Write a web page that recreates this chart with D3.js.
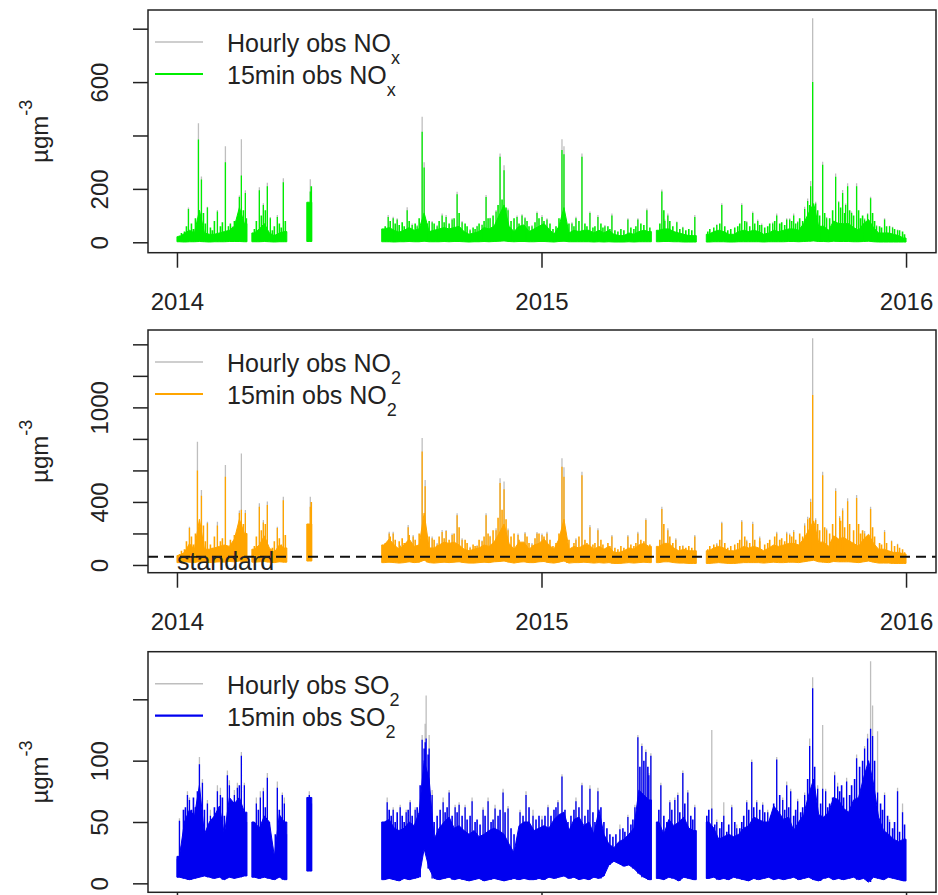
<!DOCTYPE html>
<html>
<head>
<meta charset="utf-8">
<script src="https://cdn.jsdelivr.net/npm/d3@7"></script>
<style>
  body { margin: 0; background: #fff; }
  text { font-family: "Liberation Sans", Arial, sans-serif; fill: #222; }
</style>
</head>
<body>
<svg id="chart" width="938" height="895"></svg>
<script>
// Observations are summarised in 5-day bins starting 2014-01-01:
// lo = bottom of the trace, mid = top of the dense band, null = no data.
// Spikes list individual peaks: [day offset, 15-min value, hourly value];
// minor peaks list smaller 15-min excursions: [day offset, value].
const startDate = "2014-01-01";
const binDays = 5;

const xTickDates = ["2014-01-01", "2015-01-01", "2016-01-01"];
const xTickLabels = ["2014", "2015", "2016"];

// ---- NOx ----
const noxTicks = [0, 200, 400, 600, 800];
const noxTickLabels = [0, 200, 600];
const noxDomain = [-39, 870];
const noxLo = [
  2,1,2,2,3,2,1,2,2,2,3,3,3,2, null,
  2,2,3,2,1,2,2, null,null,null,null,
  3, null,null,null,null,null,null,null,null,null,null,null,null,null,null,
  2,2,1,2,2,3,2,2,4,2, 2,2,3,2,3,3,2,1,2,2, 3,2,3,4,5,3,2,3,3,2, 2,3,3,2,1,3,4,2,2,2, 2,2,1,2,1,2,1,1,1,2, 1,2,2,2,
  null,
  2,3,3,2,2,1,1,1, null,null,
  1,2,2,2,1,1,2,2,2,2, 2,1,2,2,2,2,3,3,2,3, 4,5,3,3,2,4,3,3,3,2, 2,3,4,2,1,1,1,1,1,1
];
const noxMid = [
  21,33,45,35,120,35,30,30,35,40,45,60,130,70, null,
  35,50,70,35,25,35,40, null,null,null,null,
  150, null,null,null,null,null,null,null,null,null,null,null,null,null,null,
  50,55,45,38,45,55,45,50,110,40, 45,50,55,50,55,60,40,30,35,40, 55,50,60,100,140,60,40,60,65,40, 50,60,70,50,30,60,130,35,45,40, 45,45,35,45,35,45,30,25,25,35, 30,40,45,40,
  null,
  45,50,50,40,35,30,25,25, null,null,
  30,40,45,40,30,30,40,45,40,45, 40,30,35,45,40,45,50,50,45,70, 110,145,60,60,45,80,70,70,70,55, 45,70,85,55,35,35,35,30,25,16
];
const noxSpikes = [
  [11,125,130],[21,385,446],[24,235,246],[30,130,133],[40,115,121],[48,300,360],[51,60,60],[55,55,60],
  [60,70,75],[62,170,175],[64,250,386],[68,185,195],[82,195,206],[86,140,146],[90,210,223],[93,90,95],
  [100,95,102],[106,225,240],[133,190,236],[211,95,102],[216,90,96],[220,85,90],[230,120,131],[235,65,70],
  [240,60,65],[245,414,470],[247,280,300],[255,75,80],[260,60,65],[265,100,108],[269,95,102],[275,85,90],
  [280,180,189],[285,75,80],[293,45,50],[300,60,62],[305,65,68],[309,170,177],[313,90,92],[319,115,121],
  [323,320,333],[327,270,289],[331,120,127],[340,95,100],[345,100,105],[348,90,95],[355,60,65],[360,110,115],
  [365,95,102],[370,85,90],[385,346,386],[387,330,360],[395,70,75],[399,90,96],[405,320,333],[413,110,115],
  [421,95,102],[428,60,65],[435,100,108],[451,85,90],[461,85,90],[470,120,127],[485,190,198],[488,80,85],
  [491,100,108],[500,75,78],[506,55,58],[518,95,102],[540,65,68],[545,140,146],[565,140,146],[570,75,80],
  [576,110,115],[581,80,85],[585,65,70],[596,70,75],[600,100,108],[610,85,90],[613,85,90],[617,100,108],
  [621,75,80],[628,125,133],[631,155,164],[634,210,230],[636,600,839],[639,145,152],[646,290,302],[650,90,95],
  [659,245,258],[662,150,155],[666,185,196],[669,140,145],[671,210,221],[675,110,115],[680,210,221],[688,85,90],
  [691,105,110],[694,165,171],[700,60,65],[708,85,90],[713,60,62],[716,55,58],[721,45,48]
];
const noxMinor = [
  [2,25],[4,35],[7,40],[9,60],[14,70],[16,50],[18,90],[26,110],[28,70],[33,55],[35,45],[37,80],[43,60],
  [45,75],[53,70],[57,80],[66,120],[69,90],[77,50],[79,80],[84,100],[88,120],[95,45],[97,60],[102,70],
  [104,55],[108,80],[131,120],[134,210],[208,60],[213,80],[218,70],[222,65],[225,75],[227,60],[232,80],
  [238,70],[242,90],[250,70],[252,80],[257,70],[262,80],[267,75],[272,70],[277,90],[282,110],[288,70],
  [290,60],[296,55],[298,50],[302,70],[307,80],[311,90],[316,100],[321,140],[325,160],[329,130],[334,80],
  [337,90],[342,70],[350,80],[352,60],[358,75],[362,90],[367,80],[373,70],[376,50],[379,60],[382,90],
  [390,60],[392,70],[397,60],[402,80],[408,70],[410,60],[416,55],[418,60],[424,70],[426,55],[431,60],
  [433,50],[438,45],[441,40],[444,50],[447,45],[454,55],[457,50],[459,60],[464,70],[467,65],[473,55],
  [483,70],[487,120],[493,80],[496,60],[503,50],[509,45],[512,50],[515,45],[531,40],[533,50],[537,55],
  [543,70],[548,60],[551,45],[554,50],[558,55],[561,60],[563,70],[568,80],[573,60],[578,70],[583,65],
  [588,55],[591,60],[593,70],[598,80],[603,70],[605,75],[608,65],[615,80],[619,70],[623,90],[626,80],
  [633,140],[641,120],[643,100],[648,110],[653,90],[656,120],[664,130],[668,110],[673,120],[677,100],
  [682,120],[684,90],[686,100],[696,110],[698,80],[703,60],[705,55],[710,60],[718,50],[723,45],[726,40],[728,30]
];

// ---- NO2 ----
const no2Ticks = [0, 200, 400, 600, 800, 1000, 1200, 1400];
const no2TickLabels = [0, 400, 1000];
const no2Domain = [-49, 1491];
const no2Standard = 53;
const no2Lo = [
  15,20,18,15,22,18,15,18,20,18,22,20,25,20, null,
  18,20,22,18,15,20,18, null,null,null,null,
  25, null,null,null,null,null,null,null,null,null,null,null,null,null,null,
  15,18,15,12,15,20,15,18,30,15, 12,15,18,15,18,20,15,12,12,15, 18,15,20,22,25,18,12,18,20,15, 15,20,22,15,12,18,25,12,15,15, 18,15,12,15,12,15,10,10,12,15, 12,15,18,15,
  null,
  15,20,20,15,12,12,10,10, null,null,
  10,12,15,12,10,10,12,15,15,15, 15,12,15,18,15,15,18,18,15,20, 25,30,20,18,15,22,20,20,20,18, 15,20,25,18,12,12,12,10,10,10
];
const no2Mid = [
  60,80,135,100,290,100,100,108,118,127,118,165,290,200, null,
  100,127,185,108,80,127,108, null,null,null,null,
  260, null,null,null,null,null,null,null,null,null,null,null,null,null,null,
  127,165,127,100,127,165,118,127,330,108, 108,127,145,137,145,127,100,90,100,108, 127,118,145,200,260,137,100,145,145,100, 127,137,165,127,100,165,290,100,118,108, 127,127,100,118,100,118,80,80,90,108, 100,127,137,118,
  null,
  118,137,137,108,90,100,90,90, null,null,
  90,108,118,108,90,90,100,118,108,118, 108,90,108,127,118,127,137,137,127,165, 220,280,145,145,118,185,165,175,155,137, 118,165,195,137,100,100,90,80,80,70
];
const no2Spikes = [
  [12,235,243],[20,600,782],[24,440,476],[30,265,275],[40,250,275],[48,560,635],[60,150,160],[62,330,345],
  [64,350,708],[68,330,349],[82,370,391],[86,270,285],[90,380,402],[100,235,243],[106,410,433],[133,370,433],
  [212,200,211],[216,200,211],[223,120,125],[231,240,254],[236,180,190],[245,720,805],[248,500,540],[255,170,180],
  [260,130,140],[265,210,222],[269,215,222],[275,190,200],[280,315,328],[285,160,170],[293,110,115],[300,120,125],
  [305,150,155],[309,315,328],[313,180,185],[319,220,233],[323,520,550],[327,480,529],[331,220,232],[341,190,200],
  [348,200,210],[355,130,140],[360,200,210],[365,190,200],[370,200,211],[385,624,677],[387,560,620],[399,160,170],
  [405,570,592],[413,240,254],[421,220,233],[435,180,190],[451,180,190],[461,200,211],[469,285,296],[485,355,370],
  [491,220,233],[499,160,170],[506,120,125],[518,180,190],[540,130,140],[545,265,275],[565,275,285],[570,150,160],
  [576,260,275],[583,170,180],[600,200,211],[610,200,211],[613,190,200],[617,210,222],[628,250,264],[631,290,306],
  [634,400,420],[636,1078,1439],[639,285,296],[646,570,592],[650,220,232],[659,470,487],[663,300,310],[666,345,360],
  [671,405,423],[680,425,444],[688,200,215],[694,355,370],[708,210,222],[715,150,155],[721,130,135]
];
const no2Minor = [
  [2,70],[4,90],[7,100],[9,150],[14,180],[16,130],[18,200],[26,250],[28,150],[33,130],[35,110],[37,180],
  [43,150],[45,170],[53,160],[57,190],[66,260],[69,200],[77,120],[79,180],[84,220],[88,260],[95,110],[97,150],
  [102,170],[104,130],[108,190],[131,260],[134,400],[208,140],[213,180],[218,160],[222,150],[225,170],[227,140],
  [232,190],[238,160],[242,200],[250,160],[252,180],[257,160],[262,180],[267,170],[272,160],[277,200],[282,240],
  [288,160],[290,140],[296,130],[298,120],[302,160],[307,180],[311,200],[316,220],[321,300],[325,350],[329,290],
  [334,180],[337,200],[342,160],[350,180],[352,140],[358,170],[362,200],[367,180],[373,160],[376,120],[379,140],
  [382,200],[390,140],[392,160],[397,140],[402,180],[408,160],[410,140],[416,130],[418,140],[424,160],[426,130],
  [431,140],[433,120],[438,110],[441,100],[444,120],[447,110],[454,130],[457,120],[459,140],[464,160],[467,150],
  [473,130],[483,160],[487,260],[493,180],[496,140],[503,120],[509,110],[512,120],[515,110],[531,100],[533,120],
  [537,130],[543,160],[548,140],[551,110],[554,120],[558,130],[561,140],[563,160],[568,180],[573,140],[578,160],
  [583,150],[588,130],[591,140],[593,160],[598,180],[603,160],[605,170],[608,150],[615,180],[619,160],[623,200],
  [626,180],[633,300],[641,260],[643,220],[648,240],[653,200],[656,260],[664,280],[668,240],[673,260],[677,220],
  [682,260],[684,200],[686,220],[696,240],[698,180],[703,140],[705,130],[710,140],[718,120],[723,110],[726,100],[728,80]
];

// ---- SO2 ----
const so2Ticks = [0, 50, 100, 150];
const so2TickLabels = [0, 50, 100];
const so2Domain = [-7.3, 188.8];
const so2Lo = [
  5,4,3,4,5,6,5,4,5,3,5,4,5,6, null,
  5,4,5,4,3,5,3, null,null,null,null,
  10, null,null,null,null,null,null,null,null,null,null,null,null,null,null,
  3,4,3,2,4,3,4,5,28,12, 4,3,4,5,3,4,3,2,3,4, 2,3,4,3,2,3,4,3,4,3, 3,4,3,5,4,5,6,4,5,3, 4,3,5,4,6,15,18,16,14,15, 12,8,5,3,
  null,
  4,3,5,4,2,5,4,3, null,null,
  4,5,3,4,3,5,4,3,2,4, 3,4,5,3,4,3,4,5,3,4, 5,3,2,4,5,3,4,3,4,5, 3,4,1,5,4,3,5,4,3,2
];
const so2Mid = [
  22,50,60,55,80,40,50,55,63,40,70,65,70,58, null,
  50,45,55,50,22,56,50, null,null,null,null,
  70, null,null,null,null,null,null,null,null,null,null,null,null,null,null,
  50,52,45,43,45,50,47,58,100,85, 36,45,50,54,45,47,43,40,43,38, 40,43,45,43,40,32,25,47,50,50, 43,45,47,45,52,56,58,43,52,54, 47,50,40,60,40,32,29,34,36,40, 45,76,72,68,
  null,
  50,40,52,47,50,54,45,43, null,null,
  50,45,36,38,40,38,40,45,47,54, 52,50,50,63,58,52,54,43,50,56, 72,85,56,54,58,70,68,61,58,68, 70,86,100,81,54,43,40,36,34,36
];
const so2Spikes = [
  [2,51,53],[10,72,75],[12,68,70],[22,97,103],[25,82,85],[30,65,68],[33,55,60],[40,75,80],[43,72,78],
  [50,88,92],[52,80,84],[57,72,76],[60,78,82],[64,104,107],[67,80,82],[79,65,70],[83,70,75],[86,75,78],
  [90,86,90],[100,78,83],[105,72,74],[107,65,70],[132,72,75],[210,66,70],[216,60,62],[223,62,64],[229,58,60],
  [233,66,68],[238,60,62],[245,117,121],[248,115,130],[249,118,153],[252,110,121],[255,72,76],[266,66,70],
  [272,74,76],[278,62,64],[282,64,66],[288,62,64],[295,67,70],[306,60,62],[311,67,70],[318,61,64],[326,74,77],
  [331,61,63],[343,58,60],[349,72,75],[356,55,60],[365,52,55],[371,62,64],[381,66,68],[385,87,89],[399,67,70],
  [405,80,82],[413,77,80],[421,75,78],[443,44,48],[451,54,56],[458,62,64],[461,119,121],[465,112,114],
  [469,107,109],[472,88,90],[474,104,106],[484,80,82],[493,66,68],[498,68,70],[501,72,74],[506,90,92],
  [511,74,76],[518,62,64],[535,61,125],[540,50,52],[547,55,66],[555,62,64],[560,45,48],[570,66,68],
  [575,99,101],[580,66,68],[586,64,66],[591,58,60],[600,101,103],[606,68,70],[610,80,83],[614,75,77],
  [621,67,69],[628,72,74],[633,112,118],[636,159,168],[641,77,80],[646,77,129],[649,75,77],[658,88,91],
  [661,79,82],[670,83,86],[680,102,105],[688,110,112],[691,118,122],[694,126,181],[696,120,145],[701,74,124],
  [708,72,74],[713,50,52],[721,75,78],[726,58,65]
];
const so2Minor = [
  [0,20],[4,30],[6,60],[8,62],[14,60],[16,70],[18,62],[20,75],[27,60],[35,40],[37,62],[45,70],[47,55],
  [54,60],[62,80],[69,50],[77,50],[81,60],[88,62],[92,50],[95,30],[98,40],[102,60],[109,40],[131,70],[134,65],
  [208,50],[212,60],[214,55],[218,50],[220,58],[225,55],[227,50],[231,60],[235,55],[240,62],[243,80],[247,110],
  [251,105],[257,50],[260,55],[263,60],[268,58],[270,62],[275,55],[280,58],[285,55],[290,52],[293,55],[298,50],
  [300,52],[303,48],[308,55],[314,50],[316,52],[321,55],[323,60],[328,58],[334,45],[337,40],[340,35],[346,55],
  [352,62],[359,52],[362,55],[368,55],[374,55],[377,60],[379,62],[388,60],[391,50],[394,55],[397,60],[402,62],
  [408,55],[411,60],[416,58],[418,50],[424,62],[427,50],[430,45],[433,40],[436,38],[439,40],[446,45],[448,42],
  [454,48],[456,52],[463,95],[467,100],[471,95],[482,60],[487,55],[490,50],[495,60],[503,58],[508,65],[514,55],
  [516,52],[530,55],[532,60],[538,48],[543,45],[545,50],[550,42],[552,48],[558,50],[563,45],[565,50],[567,55],
  [572,60],[577,62],[583,60],[588,58],[594,55],[597,65],[603,72],[608,60],[612,62],[617,55],[619,60],[624,58],
  [626,62],[631,85],[638,95],[644,65],[651,62],[653,65],[656,70],[663,75],[665,80],[667,70],[673,72],[675,80],
  [678,85],[683,95],[686,100],[698,100],[704,65],[706,60],[711,55],[716,45],[718,50],[723,42],[728,48]
];

const hourlyColor = "#bebebe";

const panels = [
  { top: 10,    bottom: 252.7, domain: noxDomain, ticks: noxTicks, labels: noxTickLabels,
    lo: noxLo, mid: noxMid, spikes: noxSpikes, minor: noxMinor, color: "#00ee00",
    species: "NO", sub: "x", xLabels: true },
  { top: 330,   bottom: 572.7, domain: no2Domain, ticks: no2Ticks, labels: no2TickLabels,
    lo: no2Lo, mid: no2Mid, spikes: no2Spikes, minor: no2Minor, color: "#ffa500",
    species: "NO", sub: "2", xLabels: true, standard: no2Standard },
  { top: 651.7, bottom: 892.3, domain: so2Domain, ticks: so2Ticks, labels: so2TickLabels,
    lo: so2Lo, mid: so2Mid, spikes: so2Spikes, minor: so2Minor, color: "#0000f0",
    species: "SO", sub: "2", xLabels: false }
];

const svg = d3.select("#chart");
const parse = d3.utcParse("%Y-%m-%d");
const day0 = parse(startDate);
const atDay = d => new Date(day0.getTime() + d * 864e5);

const left = 148, right = 936;
const x = d3.scaleUtc()
  .domain([parse("2013-12-03"), parse("2016-01-31")])
  .range([left, right]);

panels.forEach((p, k) => {
  const y = d3.scaleLinear().domain(p.domain).range([p.bottom, p.top]);
  const g = svg.append("g");

  const clipId = "clip" + k;
  svg.append("clipPath").attr("id", clipId)
    .append("rect").attr("x", left).attr("y", p.top)
    .attr("width", right - left).attr("height", p.bottom - p.top);
  const plot = g.append("g").attr("clip-path", `url(#${clipId})`);

  // band: each bin placed at its centre, segment ends held to the bin edges
  const pts = [];
  const n = p.mid.length;
  p.mid.forEach((m, i) => {
    if (m == null) { pts.push({ t: null, lo: null, mid: null }); return; }
    const first = i === 0 || p.mid[i - 1] == null;
    const last = i === n - 1 || p.mid[i + 1] == null;
    if (first) pts.push({ t: atDay(i * binDays), lo: p.lo[i], mid: m });
    pts.push({ t: atDay((i + 0.5) * binDays), lo: p.lo[i], mid: m });
    if (last) pts.push({ t: atDay((i + 1) * binDays), lo: p.lo[i], mid: m });
  });
  const area = d3.area()
    .defined(d => d.mid != null)
    .x(d => x(d.t)).y0(d => y(d.lo)).y1(d => y(d.mid));

  const baseAt = d => {
    const b = p.lo[Math.floor(d / binDays)];
    return b == null ? 0 : b;
  };
  const linePath = (list, idx) => list.map(s => {
    const sx = x(atDay(s[0] + 0.5));
    return `M${sx},${y(baseAt(s[0]))}V${y(s[idx])}`;
  }).join("");

  // hourly observations underneath
  plot.append("path").attr("d", linePath(p.spikes, 2))
    .attr("fill", "none").attr("stroke", hourlyColor).attr("stroke-width", 1.3);
  plot.append("path").datum(pts).attr("d", area)
    .attr("fill", p.color).attr("stroke", p.color).attr("stroke-width", 1);
  plot.append("path").attr("d", linePath(p.minor, 1))
    .attr("fill", "none").attr("stroke", p.color).attr("stroke-width", 1.6);
  plot.append("path").attr("d", linePath(p.spikes, 1))
    .attr("fill", "none").attr("stroke", p.color).attr("stroke-width", 1.3);

  if (p.standard != null) {
    g.append("line")
      .attr("x1", left).attr("x2", right)
      .attr("y1", y(p.standard)).attr("y2", y(p.standard))
      .attr("stroke", "#111").attr("stroke-width", 2).attr("stroke-dasharray", "10,6");
    g.append("text").attr("x", x(parse(startDate))).attr("y", y(0) + 5)
      .attr("font-size", 25).text("standard");
  }

  // frame
  g.append("rect").attr("x", left).attr("y", p.top)
    .attr("width", right - left).attr("height", p.bottom - p.top)
    .attr("fill", "none").attr("stroke", "#222").attr("stroke-width", 1.5);

  // y axis
  const yAxis = d3.axisLeft(y).tickValues(p.ticks).tickSize(15).tickSizeOuter(0)
    .tickFormat(v => p.labels.includes(v) ? String(v) : "");
  const ya = g.append("g").attr("transform", `translate(${left},0)`).call(yAxis);
  ya.select(".domain").remove();
  ya.selectAll(".tick line").attr("stroke", "#222").attr("stroke-width", 1.5);
  ya.selectAll(".tick text")
    .attr("x", null).attr("dy", null).attr("text-anchor", "middle")
    .attr("font-size", 24).attr("fill", "#222")
    .attr("transform", "translate(-40,0) rotate(-90)");
  ya.attr("font-family", null).attr("font-size", null);

  // x axis
  const xAxis = d3.axisBottom(x).tickValues(xTickDates.map(parse)).tickSize(15).tickSizeOuter(0)
    .tickPadding(25).tickFormat((d, i) => p.xLabels ? xTickLabels[i] : "");
  const xa = g.append("g").attr("transform", `translate(0,${p.bottom})`).call(xAxis);
  xa.select(".domain").remove();
  xa.selectAll(".tick line").attr("stroke", "#222").attr("stroke-width", 1.5);
  xa.selectAll(".tick text").attr("font-size", 24).attr("fill", "#222");
  xa.attr("font-family", null).attr("font-size", null);

  // unit label
  const cy = (p.top + p.bottom) / 2;
  const yl = g.append("text")
    .attr("transform", `translate(48,${cy}) rotate(-90)`)
    .attr("text-anchor", "middle").attr("font-size", 24);
  yl.append("tspan").text("µgm");
  yl.append("tspan").attr("font-size", 18).attr("dy", -16).text("-3");

  // legend
  const rows = [
    { label: "Hourly obs ", color: hourlyColor, w: 1.5 },
    { label: "15min obs ", color: p.color, w: 2.2 }
  ];
  rows.forEach((r, j) => {
    const ly = p.top + 32 + j * 32;
    g.append("line").attr("x1", 155).attr("x2", 203).attr("y1", ly).attr("y2", ly)
      .attr("stroke", r.color).attr("stroke-width", r.w);
    const t = g.append("text").attr("x", 227).attr("y", ly + 10).attr("font-size", 25);
    t.append("tspan").text(r.label + p.species);
    t.append("tspan").attr("font-size", 18).attr("dy", 12).text(p.sub);
  });
});
</script>
</body>
</html>
